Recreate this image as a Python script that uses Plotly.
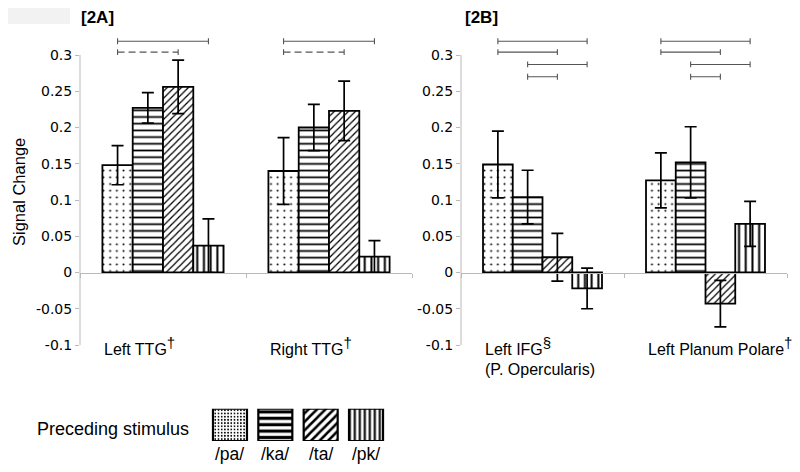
import plotly.graph_objects as go

# ---------------- data ----------------
conditions = ['/pa/', '/ka/', '/ta/', '/pk/']

DAG = "<sup><span style='font-size:15px'>†</span></sup>"
SEC = "<sup><span style='font-size:15px'>§</span></sup>"

regions_A = ['Left TTG', 'Right TTG']
labels_A = ['Left TTG' + DAG, 'Right TTG' + DAG]
sublabels_A = ['', '']
pa_A = [0.148, 0.140]
ka_A = [0.227, 0.200]
ta_A = [0.256, 0.223]
pk_A = [0.037, 0.022]
pa_A_err = [0.027, 0.046]
ka_A_err = [0.021, 0.032]
ta_A_err = [0.037, 0.041]
pk_A_err = [0.037, 0.022]

regions_B = ['Left IFG', 'Left Planum Polare']
labels_B = ['Left IFG' + SEC, 'Left Planum Polare' + DAG]
sublabels_B = ['(P. Opercularis)', '']
pa_B = [0.149, 0.127]
ka_B = [0.104, 0.152]
ta_B = [0.021, -0.043]
pk_B = [-0.022, 0.067]
pa_B_err = [0.046, 0.038]
ka_B_err = [0.037, 0.049]
ta_B_err = [0.033, 0.032]
pk_B_err = [0.028, 0.031]

# significance brackets: (from condition, to condition, level, dashed)
brackets_A = [(0, 3, 0.319, False), (0, 2, 0.304, True)]
brackets_B = [(0, 3, 0.319, False), (0, 2, 0.304, False),
              (1, 3, 0.287, False), (1, 2, 0.270, False)]

y_tickvals = [-0.1, -0.05, 0, 0.05, 0.1, 0.15, 0.2, 0.25, 0.3]
y_ticktext = ['-0.1', '-0.05', '0', '0.05', '0.1', '0.15', '0.2', '0.25', '0.3']

# ---------------- styling ----------------
OFF = 8                      # page body margin
W, H = 800 - 2 * OFF, 472 - 2 * OFF
FONT = 'Liberation Sans, Arial, Helvetica, sans-serif'
TICKFONT = 'DejaVu Sans, Liberation Sans, sans-serif'
GRAY = '#b9b9b9'
BARGAP = 0.27
YMIN, YMAX = -0.1, 0.33

main_shapes = ['.', '-', '/', '|']
main_sizes = [6.7, 6.7, 5, 6.7]
main_solid = [0.07, 0.26, 0.25, 0.3]
leg_sizes = [3.2, 6.4, 6, 5]
leg_solid = [0.25, 0.5, 0.42, 0.42]


def fx(p):
    return (p - OFF) / W


def fy(p):
    return 1 - (p - OFF) / H


# y pixel geometry (window px): 0 at 272.5 px, 725 px per unit
Y0PX, PXU = 272.5, 725.0
ydom = [fy(Y0PX - YMIN * PXU), fy(Y0PX - YMAX * PXU)]
zero_pos = fy(Y0PX)

fig = go.Figure()

panels = [
    dict(regions=regions_A, labels=labels_A, sub=sublabels_A,
         vals=[pa_A, ka_A, ta_A, pk_A], errs=[pa_A_err, ka_A_err, ta_A_err, pk_A_err],
         br=brackets_A, xa='x', ya='y'),
    dict(regions=regions_B, labels=labels_B, sub=sublabels_B,
         vals=[pa_B, ka_B, ta_B, pk_B], errs=[pa_B_err, ka_B_err, ta_B_err, pk_B_err],
         br=brackets_B, xa='x2', ya='y2'),
]

for p in panels:
    for ci, cond in enumerate(conditions):
        fig.add_trace(go.Bar(
            x=p['regions'], y=p['vals'][ci], name=cond, showlegend=False,
            xaxis=p['xa'], yaxis=p['ya'],
            marker=dict(color='white', line=dict(color='black', width=1.8),
                        pattern=dict(shape=main_shapes[ci], size=main_sizes[ci],
                                     solidity=main_solid[ci], fgcolor='black',
                                     bgcolor='white', fgopacity=1)),
            error_y=dict(type='data', array=p['errs'][ci], visible=True,
                         color='black', thickness=1.7, width=6),
        ))

# legend swatches as a small bar subplot
fig.add_trace(go.Bar(
    x=conditions, y=[1] * len(conditions), width=0.75, showlegend=False,
    xaxis='x3', yaxis='y3', cliponaxis=False, hoverinfo='skip',
    marker=dict(color='white', line=dict(color='black', width=2.2),
                pattern=dict(shape=main_shapes, size=leg_sizes, solidity=leg_solid,
                             fgcolor='black', bgcolor='white', fgopacity=1)),
))

shapes = []
annotations = []
ngroup = len(conditions)
gw = 1 - BARGAP
bw = gw / ngroup


def bar_center(k, c):
    return k - gw / 2 + bw * (c + 0.5)


for p in panels:
    xr = p['xa']
    yr = p['ya']
    dom = xr + ' domain'
    # y axis line from -0.1 to 0.3
    shapes.append(dict(type='line', xref=dom, yref=yr, x0=0, x1=0,
                       y0=y_tickvals[0], y1=y_tickvals[-1],
                       line=dict(color=GRAY, width=1)))
    for k in range(len(p['regions'])):
        for (c1, c2, lev, dashed) in p['br']:
            xa0, xa1 = bar_center(k, c1), bar_center(k, c2)
            ln = dict(color='#555555', width=1.1, dash='7px,4px' if dashed else 'solid')
            shapes.append(dict(type='line', xref=xr, yref=yr, x0=xa0, x1=xa1,
                               y0=lev, y1=lev, line=ln))
            for xe in (xa0, xa1):
                shapes.append(dict(type='line', xref=xr, yref=yr, x0=xe, x1=xe,
                                   y0=lev - 0.004, y1=lev + 0.004,
                                   line=dict(color='#555555', width=1.1)))
        annotations.append(dict(xref=xr, yref='paper', x=k - gw / 2, y=fy(332),
                                xanchor='left', yanchor='top', showarrow=False,
                                text=p['labels'][k],
                                font=dict(family=FONT, size=16, color='black')))
        if p['sub'][k]:
            annotations.append(dict(xref=xr, yref='paper', x=k - gw / 2, y=fy(369),
                                    xanchor='left', yanchor='middle', showarrow=False,
                                    text=p['sub'][k],
                                    font=dict(family=FONT, size=16, color='black')))

# legend labels under the swatches
for i, c in enumerate(conditions):
    annotations.append(dict(xref='x3', yref='paper', x=i, y=fy(454),
                            xanchor='center', yanchor='middle', showarrow=False,
                            text=c, font=dict(family=FONT, size=17.5, color='black')))

# faint scan artifact block at top-left
shapes.append(dict(type='rect', xref='paper', yref='paper', x0=0, x1=fx(70),
                   y0=fy(24), y1=fy(8), line=dict(width=0), fillcolor='#f2f2f2',
                   layer='below'))

annotations += [
    dict(xref='paper', yref='paper', x=fx(79), y=fy(17), xanchor='left', yanchor='middle',
         text='<b>[2A]</b>', showarrow=False, font=dict(family=FONT, size=17, color='black')),
    dict(xref='paper', yref='paper', x=fx(463), y=fy(17), xanchor='left', yanchor='middle',
         text='<b>[2B]</b>', showarrow=False, font=dict(family=FONT, size=17, color='black')),
    dict(xref='paper', yref='paper', x=fx(19), y=fy(192), xanchor='center', yanchor='middle',
         text='Signal Change', textangle=-90, showarrow=False,
         font=dict(family=FONT, size=16.5, color='black')),
    dict(xref='paper', yref='paper', x=fx(35), y=fy(429), xanchor='left', yanchor='middle',
         text='Preceding stimulus', showarrow=False,
         font=dict(family=FONT, size=18, color='black')),
]


def xaxis_main(dom):
    return dict(domain=dom, type='category', range=[-0.5, 1.5], anchor='free',
                position=zero_pos, showline=True, linecolor=GRAY, linewidth=1,
                ticks='outside', tickson='boundaries', ticklen=4, tickcolor=GRAY,
                showticklabels=False, showgrid=False, zeroline=False, fixedrange=True)


def yaxis_main(anchor):
    return dict(domain=ydom, range=[YMIN, YMAX], anchor=anchor,
                tickvals=y_tickvals, ticktext=y_ticktext, ticks='outside', ticklen=4,
                tickcolor=GRAY, showline=False, showgrid=False, zeroline=False,
                tickfont=dict(family=TICKFONT, size=14, color='black'),
                automargin=False, fixedrange=True)


fig.update_layout(
    width=W, height=H,
    margin=dict(l=0, r=0, t=0, b=0),
    paper_bgcolor='white', plot_bgcolor='white',
    barmode='group', bargap=BARGAP, bargroupgap=0,
    xaxis=xaxis_main([fx(80), fx(412)]),
    xaxis2=xaxis_main([fx(461), fx(787)]),
    yaxis=yaxis_main('x'),
    yaxis2=yaxis_main('x2'),
    xaxis3=dict(domain=[fx(207.3), fx(388.7)], anchor='y3', type='category',
                range=[-0.5, 3.5], showline=False, ticks='', showgrid=False,
                zeroline=False, showticklabels=False, fixedrange=True),
    yaxis3=dict(domain=[fy(441), fy(408.7)], anchor='x3', range=[0, 1], visible=False,
                fixedrange=True),
    shapes=shapes, annotations=annotations,
    font=dict(family=FONT, color='black'),
    showlegend=False,
)

fig.write_html('out.html')
